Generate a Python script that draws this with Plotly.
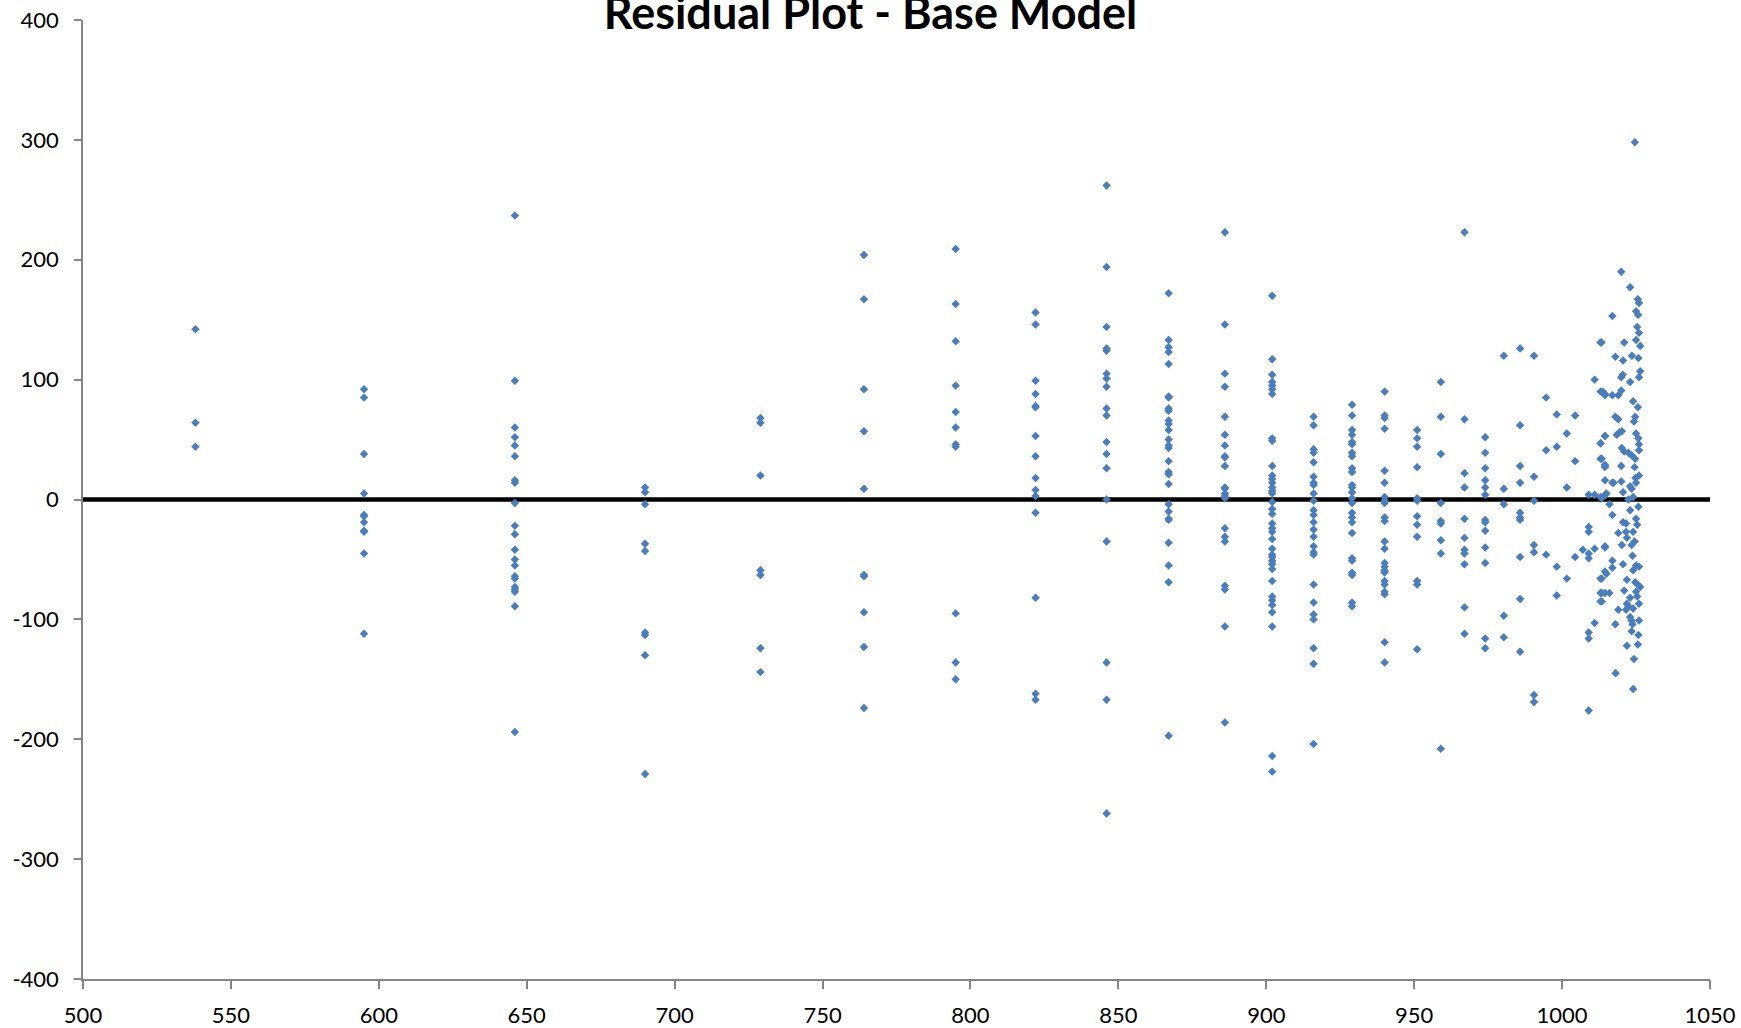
import plotly.graph_objects as go

# Column x-values (fitted values) and their residuals
x_cols = [538, 595, 646, 690, 729, 764, 795, 822, 846, 867, 886, 902, 916, 929, 940, 951, 959, 967, 974]

res_538 = [142, 64, 44]
res_595 = [92, 85, 38, 5, -13, -14, -19, -26, -27, -45, -112]
res_646 = [237, 99, 60, 52, 45, 36, 16, 14, -3, -22, -29, -42, -50, -55, -64, -66, -73, -75, -77, -89, -194]
res_690 = [10, 6, -4, -37, -43, -111, -113, -130, -229]
res_729 = [68, 64, 20, -59, -63, -124, -144]
res_764 = [204, 167, 92, 57, 9, -63, -64, -94, -123, -174]
res_795 = [209, 163, 132, 95, 73, 60, 46, 44, -95, -136, -150]
res_822 = [156, 146, 99, 88, 78, 77, 53, 36, 18, 8, 3, -11, -82, -162, -167]
res_846 = [262, 194, 144, 126, 124, 105, 101, 94, 76, 70, 48, 38, 26, 0, -35, -136, -167, -262]
res_867 = [172, 133, 127, 123, 113, 86, 85, 76, 74, 66, 63, 58, 50, 45, 43, 32, 23, 21, 13, -4, -10, -16, -17, -36, -55, -69, -197]
res_886 = [223, 146, 105, 94, 69, 54, 45, 36, 35, 28, 10, 9, 5, 3, 1, -24, -31, -35, -72, -75, -106, -186]
res_902 = [170, 117, 104, 98, 95, 92, 88, 51, 49, 28, 20, 17, 14, 10, 7, 5, -2, -8, -12, -20, -24, -27, -33,
           -41, -46, -48, -51, -54, -58, -68, -81, -84, -88, -94, -106, -214, -227]
res_916 = [69, 62, 42, 39, 31, 19, 14, 12, 5, -1, -9, -13, -19, -25, -31, -39, -44, -46, -71, -86, -96, -100,
           -124, -137, -204]
res_929 = [79, 70, 58, 54, 48, 46, 39, 36, 26, 23, 12, 10, 6, 1, -3, -11, -15, -19, -28, -49, -51, -61, -63, -86, -89]
res_940 = [90, 70, 68, 59, 24, 14, 2, -1, -3, -15, -18, -35, -41, -53, -56, -59, -61, -68, -71, -77, -79, -119, -136]
res_951 = [58, 51, 44, 27, 1, -1, -14, -21, -31, -68, -71, -125]
res_959 = [98, 69, 38, -3, -18, -20, -34, -45, -208]
res_967 = [223, 67, 22, 10, -16, -32, -42, -45, -54, -90, -112]
res_974 = [52, 39, 26, 16, 10, 4, -17, -19, -26, -40, -53, -116, -124]

# Scattered points in the dense region (x > 978)
dense_x = [980.3, 980.3, 980.3, 980.3, 980.3,
           985.8, 985.8, 985.8, 985.8, 985.8, 985.8, 985.8, 985.8, 985.8, 985.8,
           990.5, 990.5, 990.5, 990.5, 990.5, 990.5, 990.5,
           994.6, 994.6, 994.6,
           998.2, 998.2, 998.2, 998.2,
           1001.6, 1001.6, 1001.6,
           1004.4, 1004.4, 1004.4,
           1007,
           1009, 1009, 1009, 1009, 1009, 1009, 1009, 1009,
           1011, 1011, 1011, 1011,
           1013, 1013, 1013, 1013, 1013, 1013, 1013, 1013,
           1014.5, 1014.5, 1014.5, 1014.5, 1014.5, 1014.5, 1014.5, 1014.5,
           1024.6, 1020, 1023, 1025.6, 1026, 1017, 1025, 1025.7, 1025.4, 1026,
           1013.3, 1021, 1025, 1026.4, 1018, 1020.6, 1023.6, 1025.8, 1026.4, 1026,
           1020.5, 1020, 1023, 1013.7, 1014.5, 1017, 1019, 1020, 1024, 1025.6,
           1018, 1019, 1024.7, 1024.3, 1014.5, 1018.5, 1019.4, 1020.2, 1025, 1025.8,
           1026, 1026, 1013, 1020.2, 1021, 1022.4, 1023.5, 1024.7, 1013.4, 1014.5,
           1020, 1024.5, 1026, 1024.8, 1014.5, 1017, 1020, 1023,
           1017.4, 1015, 1013.4, 1023.5, 1025, 1020.6, 1022.4, 1024, 1025.8, 1016,
           1023, 1017, 1025, 1020.6, 1021.6, 1025.4, 1019, 1021.6, 1024, 1024.5,
           1021.9, 1020.2, 1014.5, 1023.5, 1017, 1020.6, 1023.8, 1025, 1026, 1024,
           1017, 1015, 1013.4, 1021.9, 1024.7, 1025.6, 1026.4, 1021, 1025, 1016,
           1013.4, 1025.4, 1023, 1013.4, 1021.9, 1026, 1022.4, 1019, 1021.6, 1024,
           1023, 1023.5, 1026, 1018, 1023.8, 1023.5, 1025.8, 1021.9, 1025.6, 1024.3,
           1018.1, 1024]
dense_y = [120, 9, -4, -97, -115,
           126, 62, 28, 14, -11, -15, -17, -48, -83, -127,
           120, 19, -1, -38, -44, -163, -169,
           85, 41, -46,
           71, 44, -56, -80,
           55, 10, -66,
           70, 32, -48,
           -42,
           4, -23, -27, -45, -49, -111, -116, -176,
           100, 4, -41, -103,
           131, 90, 47, 34, 2, -66, -78, -85,
           88, 53, 29, 27, 4, -39, -60, -78,
           298, 190, 177, 167, 164, 153, 157, 154, 144, 139,
           131, 131, 133, 128, 119, 116, 120, 118, 107, 102,
           104, 102, 98, 90, 87, 87, 87, 91, 82, 77,
           69, 67, 69, 65, 53, 54, 56, 57, 55, 51,
           46, 41, 47, 43, 40, 39, 37, 34, 34, 28,
           28, 27, 20, 18, 16, 14, 15, 11,
           14, 5, 1, 9, 14, 6, 0, 2, -6, -4,
           -9, -13, -16, -19, -20, -21, -28, -27, -27, -35,
           -32, -38, -40, -38, -51, -54, -47, -55, -56, -59,
           -57, -62, -66, -67, -69, -71, -73, -76, -77, -78,
           -78, -81, -82, -85, -87, -87, -89, -92, -92, -91,
           -98, -101, -101, -104, -104, -110, -113, -122, -121, -133,
           -145, -158]

zero_x = [500, 1050]
zero_y = [0, 0]

x_ticks = list(range(500, 1051, 50))
y_ticks = list(range(-400, 401, 100))

col_res = [res_538, res_595, res_646, res_690, res_729, res_764, res_795, res_822, res_846,
           res_867, res_886, res_902, res_916, res_929, res_940, res_951, res_959, res_967, res_974]

px_all, py_all = [], []
for xv, rs in zip(x_cols, col_res):
    px_all += [xv] * len(rs)
    py_all += rs
px_all += dense_x
py_all += dense_y

fig = go.Figure()
fig.add_trace(go.Scatter(x=zero_x, y=zero_y, mode="lines",
                         line=dict(color="black", width=4.5), hoverinfo="skip", showlegend=False))
fig.add_trace(go.Scatter(x=px_all, y=py_all, mode="markers",
                         marker=dict(symbol="diamond", size=6.5, color="#4A7EBB", line=dict(width=0)),
                         showlegend=False))

font_family = "Lato, Open Sans, Liberation Sans, sans-serif"
fig.update_layout(
    width=1741, height=1028,
    margin=dict(l=83, r=31, t=20, b=49, autoexpand=False),
    paper_bgcolor="white", plot_bgcolor="white",
    showlegend=False,
    font=dict(family=font_family, size=22, color="black"),
    title=dict(text="<b>Residual Plot - Base Model</b>", x=0.5, xanchor="center",
               y=0.987, yref="container", yanchor="middle", automargin=False,
               font=dict(family=font_family, size=45, color="black")),
)
fig.update_xaxes(range=[500, 1050], tickvals=x_ticks, ticktext=[str(v) for v in x_ticks],
                 showgrid=False, zeroline=False, showline=True, linecolor="#868686", linewidth=1.5,
                 ticks="outside", ticklen=8, tickcolor="#868686", tickwidth=1.5, automargin=False,
                 ticklabelstandoff=8, tickfont=dict(size=22))
fig.update_yaxes(range=[-400, 400], tickvals=y_ticks, ticktext=[str(v) for v in y_ticks],
                 showgrid=False, zeroline=False, showline=True, linecolor="#868686", linewidth=1.5,
                 ticks="outside", ticklen=7, tickcolor="#868686", tickwidth=1.5, automargin=False,
                 ticklabelstandoff=11, tickfont=dict(size=22))

fig.write_html("out.html", config={"displayModeBar": False},
               post_script="document.body.style.margin='0';document.body.style.overflow='hidden';")
